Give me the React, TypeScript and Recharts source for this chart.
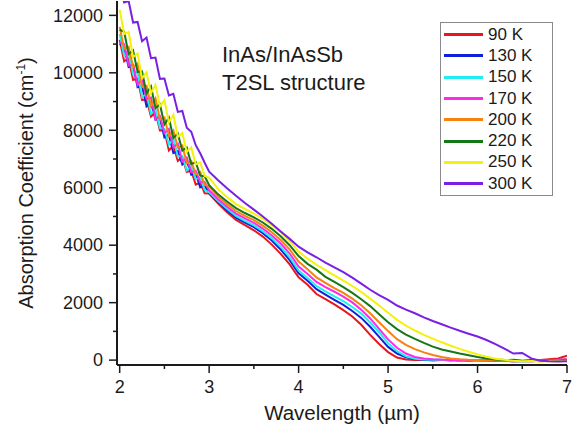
import { LineChart, Line, XAxis, YAxis, Legend } from "recharts";

const FONT = "'Liberation Sans', Arial, sans-serif";
const INK = "#1b1b1b";

// wavelength grid (µm): fine steps over the noisy short-wave part, then 0.1 µm
const WAVELENGTH = [
  2.0, 2.05, 2.1, 2.15, 2.2, 2.25, 2.3, 2.35, 2.4, 2.45, 2.5, 2.55, 2.6, 2.65, 2.7, 2.75, 2.8, 2.85, 2.9, 2.95, 3.0,
  3.1, 3.2, 3.3, 3.4, 3.5, 3.6, 3.7, 3.8, 3.9, 4.0, 4.1, 4.2, 4.3, 4.4, 4.5, 4.6, 4.7, 4.8, 4.9, 5.0,
  5.1, 5.2, 5.3, 5.4, 5.5, 5.6, 5.7, 5.8, 5.9, 6.0, 6.1, 6.2, 6.3, 6.4, 6.5, 6.6, 6.7, 6.8, 6.9, 7.0,
];

// absorption coefficient (cm^-1) per temperature
const K90 = [
  11150, 10400, 10500, 9750, 9800, 9050, 9080, 8480, 8630, 7990, 8000, 7300, 7460, 6930, 7060, 6550, 6600, 6110, 6180, 5810, 5800,
  5450, 5150, 4880, 4700, 4520, 4300, 4020, 3700, 3330, 2880, 2620, 2300, 2120, 1940, 1740, 1520, 1230, 880, 560, 280,
  90, 20, 0, 10, -10, 0, 10, -20, 0, -10, -30, -10, -20, -40, -30, -20, 0, 30, 60, 150,
];
const K130 = [
  11000, 10900, 10200, 10250, 9500, 9550, 8830, 8970, 8370, 8430, 7750, 7850, 7210, 7280, 6810, 6950, 6450, 6500, 6010, 6080, 5800,
  5500, 5220, 4960, 4790, 4630, 4420, 4160, 3850, 3480, 3020, 2760, 2470, 2280, 2100, 1920, 1710, 1470, 1160, 810, 460,
  230, 100, 40, 10, 0, 10, -10, 0, -20, 0, -10, -30, -20, -40, -30, -40, -20, -10, 0, 20,
];
const K150 = [
  11350, 10600, 10650, 9950, 10020, 9150, 9280, 8570, 8720, 8080, 8050, 7500, 7710, 7080, 7110, 6600, 6750, 6300, 6350, 5920, 5840,
  5540, 5270, 5020, 4850, 4690, 4490, 4240, 3940, 3580, 3120, 2860, 2580, 2390, 2220, 2050, 1850, 1620, 1310, 970, 590,
  310, 130, 50, 20, 10, 0, 10, -10, 0, -20, -10, -20, -30, -20, -40, -30, -20, -10, 0, 10,
];
const K170 = [
  11050, 11000, 10250, 10280, 9580, 9800, 9090, 9140, 8390, 8490, 7900, 8050, 7410, 7530, 6910, 7050, 6540, 6590, 6190, 6200, 5910,
  5600, 5340, 5100, 4930, 4780, 4580, 4340, 4060, 3710, 3260, 3000, 2720, 2540, 2380, 2210, 2010, 1750, 1450, 1090, 720,
  430, 230, 110, 60, 30, 10, 0, 10, -10, 0, -20, -10, -30, -20, -30, -40, -20, -10, 10, 30,
];
const K200 = [
  11600, 10830, 10900, 10200, 10320, 9500, 9550, 8850, 9110, 8380, 8450, 7790, 7990, 7400, 7470, 6850, 6930, 6460, 6550, 6100, 6050,
  5690, 5430, 5190, 5020, 4870, 4680, 4450, 4180, 3850, 3430, 3160, 2880, 2690, 2510, 2340, 2140, 1910, 1630, 1320, 1010,
  730, 530, 380, 270, 180, 110, 60, 30, 10, 0, -10, 10, -20, 0, -30, -20, -40, -20, 0, 20,
];
const K220 = [
  11500, 11430, 10650, 10780, 10030, 10050, 9280, 9530, 8770, 8900, 8200, 8440, 7730, 7880, 7290, 7400, 6820, 6890, 6420, 6400, 6090,
  5770, 5520, 5290, 5120, 4970, 4790, 4570, 4310, 4000, 3620, 3350, 3150, 2900, 2720, 2540, 2340, 2120, 1880, 1600, 1320,
  1080, 890, 740, 600, 470, 370, 300, 230, 170, 110, 60, 20, 0, 10, -20, 0, -30, -10, -20, 0,
];
const K250 = [
  12200, 11350, 11420, 10550, 10670, 9800, 10020, 9290, 9580, 8830, 9050, 8270, 8540, 7770, 7900, 7250, 7400, 6810, 6880, 6410, 6350,
  5950, 5680, 5430, 5260, 5100, 4920, 4700, 4450, 4150, 3780, 3530, 3320, 3130, 2950, 2770, 2580, 2370, 2140, 1900, 1650,
  1400, 1200, 1030, 880, 750, 620, 500, 390, 290, 200, 120, 50, 10, -20, -40, -30, -50, -30, -40, -20,
];
const K300 = [
  13000, 12450, 12500, 11750, 11770, 11100, 11230, 10510, 10530, 9790, 9800, 9210, 9270, 8640, 8670, 8090, 7950, 7480, 7200, 6870, 6560,
  6260, 5980, 5720, 5470, 5240, 5000, 4750, 4480, 4220, 3950, 3750, 3580, 3390, 3230, 3060, 2870, 2660, 2450, 2260, 2100,
  1900, 1760, 1630, 1490, 1360, 1250, 1130, 1020, 920, 820, 700, 560, 400, 230, 250, 60, -20, -40, -50, -40,
];

const X_TICKS = [2, 2.5, 3, 3.5, 4, 4.5, 5, 5.5, 6, 6.5, 7];
const X_LABELS = [2, 3, 4, 5, 6, 7];
const Y_TICKS = [0, 1000, 2000, 3000, 4000, 5000, 6000, 7000, 8000, 9000, 10000, 11000, 12000];
const Y_LABELS = [0, 2000, 4000, 6000, 8000, 10000, 12000];

const SERIES = [
  { key: "k90", name: "90 K", color: "#e8161d", values: K90 },
  { key: "k130", name: "130 K", color: "#1020d8", values: K130 },
  { key: "k150", name: "150 K", color: "#20eef2", values: K150 },
  { key: "k170", name: "170 K", color: "#fb2ce6", values: K170 },
  { key: "k200", name: "200 K", color: "#f7820f", values: K200 },
  { key: "k220", name: "220 K", color: "#147814", values: K220 },
  { key: "k250", name: "250 K", color: "#f4f10a", values: K250 },
  { key: "k300", name: "300 K", color: "#7a1fe4", values: K300 },
];

const rows = WAVELENGTH.map((w, i) => {
  const row: Record<string, number> = { w };
  SERIES.forEach((s) => (row[s.key] = s.values[i]));
  return row;
});

const TICK_SIZE = 8;
const TICK_GAP = 4;
const MAJOR = 8;
const MINOR = 4;

const BottomTick = (props: any) => {
  const { x, y, payload } = props;
  const axisY = y - TICK_SIZE - TICK_GAP;
  const major = X_LABELS.includes(payload.value);
  return (
    <g>
      <line x1={x} x2={x} y1={axisY} y2={axisY + (major ? MAJOR : MINOR)} stroke={INK} strokeWidth={1.5} />
      {major && (
        <text x={x} y={axisY + 22} dy="0.35em" textAnchor="middle" fontSize={18} fontFamily={FONT} fill={INK}>
          {payload.value}
        </text>
      )}
    </g>
  );
};

const LeftTick = (props: any) => {
  const { x, y, payload } = props;
  const axisX = x + TICK_SIZE + TICK_GAP;
  const major = Y_LABELS.includes(payload.value);
  return (
    <g>
      <line x1={axisX} x2={axisX - (major ? MAJOR : MINOR)} y1={y} y2={y} stroke={INK} strokeWidth={1.5} />
      {major && (
        <text x={axisX - 14} y={y} dy="0.35em" textAnchor="end" fontSize={18} fontFamily={FONT} fill={INK}>
          {payload.value}
        </text>
      )}
    </g>
  );
};

// mirrored frame axes: tick marks only, pointing into the plot
const TopTick = (props: any) => {
  const { x, y, payload } = props;
  const axisY = y - TICK_SIZE;
  const major = X_LABELS.includes(payload.value);
  return <line x1={x} x2={x} y1={axisY} y2={axisY + (major ? MAJOR : MINOR)} stroke={INK} strokeWidth={1.5} />;
};

const RightTick = (props: any) => {
  const { x, y, payload } = props;
  const axisX = x + TICK_SIZE;
  const major = Y_LABELS.includes(payload.value);
  return <line x1={axisX} x2={axisX - (major ? MAJOR : MINOR)} y1={y} y2={y} stroke={INK} strokeWidth={1.5} />;
};

const XTitle = (props: any) => {
  const { x, y, width } = props.viewBox;
  return (
    <text x={x + width / 2} y={y + 48} dy="0.35em" textAnchor="middle" fontSize={20.5} fontFamily={FONT} fill={INK}>
      Wavelength (µm)
    </text>
  );
};

const YTitle = (props: any) => {
  const { x, y, height } = props.viewBox;
  const cx = x + 26;
  const cy = y + height / 2;
  return (
    <text x={cx} y={cy} dy="0.35em" transform={`rotate(-90, ${cx}, ${cy})`} textAnchor="middle" fontSize={20} fontFamily={FONT} fill={INK}>
      Absorption Coefficient (cm
      <tspan fontSize={12} dy={-8}>-1</tspan>
      <tspan dy={8}>)</tspan>
    </text>
  );
};

const LegendBox = () => (
  <div
    style={{
      border: "1px solid #8a8a8a",
      background: "#fff",
      width: 113,
      padding: "1px 0 1px 3px",
      boxSizing: "border-box",
      fontFamily: FONT,
      fontSize: 17,
      color: INK,
    }}
  >
    {SERIES.map((s) => (
      <div key={s.key} style={{ display: "flex", alignItems: "center", height: 21.3 }}>
        <span style={{ display: "inline-block", width: 39, height: 3, background: s.color, marginRight: 5 }} />
        <span>{s.name}</span>
      </div>
    ))}
  </div>
);

export default function App() {
  return (
    <div style={{ position: "absolute", left: 0, top: 0, width: 574, height: 430, background: "#fff" }}>
      <LineChart width={574} height={430} data={rows} margin={{ top: 1, right: 7, bottom: 0, left: 0 }}>
        <XAxis
          dataKey="w"
          type="number"
          domain={[1.97, 7]}
          allowDataOverflow
          ticks={X_TICKS}
          interval={0}
          height={65}
          tickLine={false}
          tickSize={TICK_SIZE}
          tickMargin={TICK_GAP}
          tick={<BottomTick />}
          axisLine={{ stroke: INK, strokeWidth: 2 }}
          label={<XTitle />}
        />
        <YAxis
          type="number"
          domain={[-170, 12500]}
          allowDataOverflow
          ticks={Y_TICKS}
          interval={0}
          width={117}
          tickLine={false}
          tickSize={TICK_SIZE}
          tickMargin={TICK_GAP}
          tick={<LeftTick />}
          axisLine={{ stroke: INK, strokeWidth: 2 }}
          label={<YTitle />}
        />
        <XAxis
          xAxisId="top"
          orientation="top"
          mirror
          type="number"
          domain={[1.97, 7]}
          allowDataOverflow
          ticks={X_TICKS}
          interval={0}
          height={0}
          tickLine={false}
          tickSize={TICK_SIZE}
          tickMargin={0}
          tick={<TopTick />}
          axisLine={{ stroke: INK, strokeWidth: 2 }}
        />
        <YAxis
          yAxisId="right"
          orientation="right"
          mirror
          type="number"
          domain={[-170, 12500]}
          allowDataOverflow
          ticks={Y_TICKS}
          interval={0}
          width={0}
          tickLine={false}
          tickSize={TICK_SIZE}
          tickMargin={0}
          tick={<RightTick />}
          axisLine={{ stroke: INK, strokeWidth: 2 }}
        />
        {SERIES.map((s) => (
          <Line
            key={s.key}
            type="linear"
            dataKey={s.key}
            name={s.name}
            stroke={s.color}
            strokeWidth={2}
            dot={false}
            isAnimationActive={false}
          />
        ))}
        <Legend
          layout="vertical"
          align="center"
          verticalAlign="middle"
          wrapperStyle={{ position: "absolute", left: 440, top: 22, width: 113 }}
          content={<LegendBox />}
        />
      </LineChart>
      <div
        style={{
          position: "absolute",
          left: 222,
          top: 41,
          fontFamily: FONT,
          fontSize: 22,
          lineHeight: "27.5px",
          color: INK,
          whiteSpace: "nowrap",
        }}
      >
        InAs/InAsSb
        <br />
        T2SL structure
      </div>
    </div>
  );
}
